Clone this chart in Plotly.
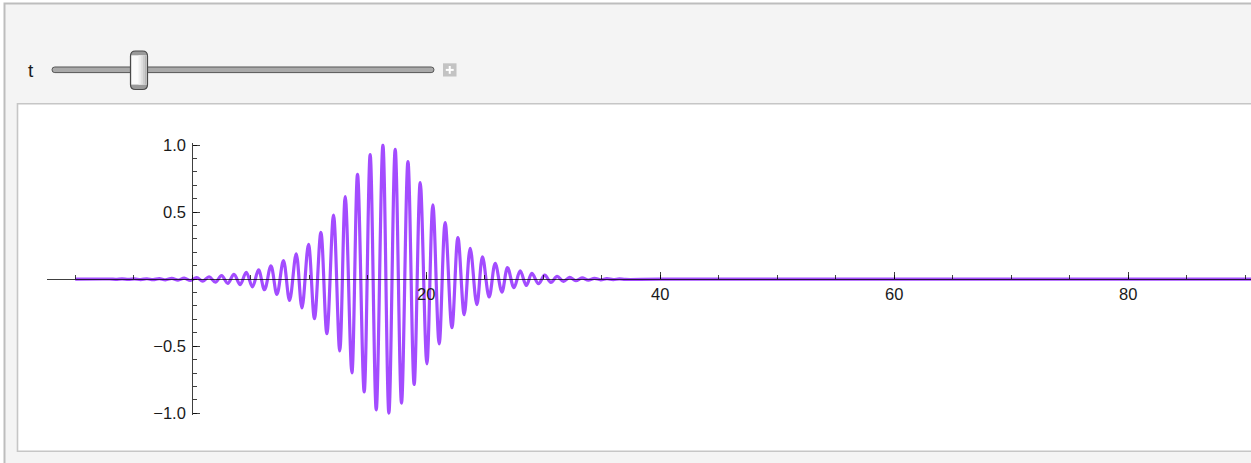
import plotly.graph_objects as go

W, H = 1251, 463

# Turning points of the wave packet (x position, displacement), plus flat ends
x_vals = [-10.0, -7.06, -6.53, -5.99, -5.46, -4.93, -4.40, -3.87, -3.34, -2.81,
          -2.28, -1.74, -1.21, -0.68, -0.15, 0.38, 0.91, 1.44, 1.98, 2.51,
          3.04, 3.57, 4.10, 4.62, 5.15, 5.67, 6.18, 6.73, 7.24, 7.80,
          8.32, 8.89, 9.38, 9.94, 10.45, 11.00, 11.51, 12.08, 12.61, 13.08,
          13.65, 14.13, 14.70, 15.21, 15.73, 16.30, 16.81, 17.35, 17.89, 18.44,
          18.97, 19.49, 20.06, 20.57, 21.11, 21.62, 22.20, 22.71, 23.25, 23.76,
          24.33, 24.81, 25.38, 25.90, 26.47, 26.95, 27.50, 28.03, 28.56, 29.03,
          29.60, 30.13, 30.66, 31.19, 31.73, 32.26, 32.79, 33.32, 33.85, 34.38,
          34.91, 35.44, 35.98, 36.51, 37.04, 40.0, 100.0]
y_vals = [0.0, 0.001, -0.001, 0.002, -0.002, 0.002, -0.003, 0.003, -0.004, 0.004,
          -0.005, 0.006, -0.007, 0.008, -0.010, 0.012, -0.015, 0.018, -0.022, 0.026,
          -0.031, 0.036, -0.041, 0.051, -0.058, 0.069, -0.079, 0.099, -0.114, 0.138,
          -0.159, 0.188, -0.215, 0.259, -0.295, 0.349, -0.407, 0.478, -0.535, 0.616,
          -0.698, 0.782, -0.840, 0.929, -0.974, 0.999, -0.998, 0.968, -0.924, 0.877,
          -0.785, 0.720, -0.631, 0.554, -0.482, 0.422, -0.362, 0.310, -0.265, 0.230,
          -0.190, 0.166, -0.133, 0.118, -0.096, 0.086, -0.064, 0.061, -0.047, 0.043,
          -0.034, 0.030, -0.024, 0.020, -0.016, 0.013, -0.011, 0.009, -0.007, 0.006,
          -0.005, 0.004, -0.003, 0.002, -0.002, 0.0, 0.0]

x_tick_vals = [20, 40, 60, 80]
x_tick_text = ["20", "40", "60", "80"]
y_tick_vals = [-1.0, -0.5, 0.5, 1.0]
y_tick_text = ["\u22121.0", "\u22120.5", "0.5", "1.0"]

slider_label = "t"

FONT = "Liberation Sans, Arial, Helvetica, sans-serif"
AXIS_COLOR = "rgba(0,0,0,0.75)"
TEXT_COLOR = "#1a1a1a"


# pixel -> paper helpers for the control panel decorations
def px(x):
    return x / W


def py(y):
    return 1 - y / H


def rounded_rect(x0, y0, x1, y1, r):
    pts = [
        ("M", (x0 + r, y0)), ("L", (x1 - r, y0)), ("Q", (x1, y0), (x1, y0 + r)),
        ("L", (x1, y1 - r)), ("Q", (x1, y1), (x1 - r, y1)), ("L", (x0 + r, y1)),
        ("Q", (x0, y1), (x0, y1 - r)), ("L", (x0, y0 + r)), ("Q", (x0, y0), (x0 + r, y0)),
    ]
    out = []
    for cmd, *coords in pts:
        out.append(cmd + " " + " ".join(f"{px(a):.6f},{py(b):.6f}" for a, b in coords))
    return " ".join(out) + " Z"


def prect(x0, y0, x1, y1, layer="above", **kw):
    return dict(type="rect", xref="paper", yref="paper", x0=px(x0), x1=px(x1),
                y0=py(y1), y1=py(y0), layer=layer, **kw)


shapes = [
    # outer control frame
    prect(4.5, 3.5, 1270, 480, layer="below",
          fillcolor="#f4f4f4", line=dict(color="#bdbdbd", width=2)),
    # white plot pane
    prect(17.5, 103.8, 1270, 451.2, layer="below",
          fillcolor="#ffffff", line=dict(color="#c6c6c6", width=1.6)),
    # slider track
    dict(type="path", xref="paper", yref="paper", layer="above",
         path=rounded_rect(52, 67, 434, 72.6, 2.8),
         fillcolor="#a9a9a9", line=dict(color="#555555", width=1)),
    # slider thumb
    dict(type="path", xref="paper", yref="paper", layer="above",
         path=rounded_rect(130.5, 51, 147.5, 89.5, 5),
         fillcolor="#9a9a9a", line=dict(color="#4a4a4a", width=1.2)),
    prect(131.3, 55.3, 146.7, 84.6, fillcolor="#fbfbfb", line=dict(width=0)),
    prect(138.5, 55.3, 140.5, 84.6, fillcolor="#efefef", line=dict(width=0)),
    prect(140.5, 55.3, 142.5, 84.6, fillcolor="#e0e0e0", line=dict(width=0)),
    prect(142.5, 55.3, 144.5, 84.6, fillcolor="#cdcdcd", line=dict(width=0)),
    prect(144.5, 55.3, 146.7, 84.6, fillcolor="#b7b7b7", line=dict(width=0)),
    # "+" expander button
    prect(443, 63.3, 456.5, 76.5, fillcolor="#c3c3c3", line=dict(width=0)),
    dict(type="line", xref="paper", yref="paper", layer="above",
         x0=px(445.8), x1=px(453.7), y0=py(69.9), y1=py(69.9),
         line=dict(color="#ffffff", width=2)),
    dict(type="line", xref="paper", yref="paper", layer="above",
         x0=px(449.75), x1=px(449.75), y0=py(66), y1=py(73.8),
         line=dict(color="#ffffff", width=2)),
]

fig = go.Figure()
fig.add_trace(go.Scatter(
    x=x_vals, y=y_vals, mode="lines",
    line=dict(color="#a34cff", width=3.2, shape="spline", smoothing=1.0),
    hoverinfo="skip", showlegend=False,
))

# axis geometry: origin at (192.2, 279.15) px, 11.7 px per x unit, 134.15 px per y unit
x0_px, y0_px, sx, sy = 192.2, 279.15, 11.7, 134.15
x_dom_left = 47.0
y_lim = 1.012
x_range = [(x_dom_left - x0_px) / sx, (W - x0_px) / sx]
y_top_px = y0_px - y_lim * sy
y_bot_px = y0_px + y_lim * sy

tick_font = dict(family=FONT, size=16.5, color=TEXT_COLOR)

fig.update_layout(
    width=W, height=H, autosize=False,
    margin=dict(l=0, r=0, t=0, b=0, pad=0, autoexpand=False),
    paper_bgcolor="#ffffff", plot_bgcolor="rgba(0,0,0,0)",
    font=dict(family=FONT, size=16.5, color=TEXT_COLOR),
    shapes=shapes,
    showlegend=False,
    xaxis=dict(
        domain=[x_dom_left / W, 1.0], range=x_range,
        anchor="free", position=1 - y0_px / H, automargin=False,
        showgrid=False, zeroline=False, showline=True,
        linecolor=AXIS_COLOR, linewidth=1,
        tickmode="array", tickvals=x_tick_vals, ticktext=x_tick_text,
        ticks="inside", ticklen=7, tickwidth=1, tickcolor=AXIS_COLOR,
        minor=dict(dtick=5, tick0=0, ticks="inside", ticklen=4, tickwidth=1,
                   tickcolor=AXIS_COLOR, showgrid=False),
        tickfont=tick_font,
        fixedrange=True,
    ),
    yaxis=dict(
        domain=[1 - y_bot_px / H, 1 - y_top_px / H], range=[-y_lim, y_lim],
        anchor="free", position=x0_px / W, automargin=False,
        showgrid=False, zeroline=False, showline=True,
        linecolor=AXIS_COLOR, linewidth=1,
        tickmode="array", tickvals=y_tick_vals, ticktext=y_tick_text,
        ticks="inside", ticklen=7, tickwidth=1, tickcolor=AXIS_COLOR,
        minor=dict(dtick=0.1, tick0=0, ticks="inside", ticklen=4, tickwidth=1,
                   tickcolor=AXIS_COLOR, showgrid=False),
        tickfont=tick_font, ticklabelstandoff=3,
        fixedrange=True,
    ),
    annotations=[
        dict(text=slider_label, xref="paper", yref="paper", x=px(31), y=py(70),
             xanchor="center", yanchor="middle", showarrow=False,
             font=dict(family=FONT, size=19, color=TEXT_COLOR)),
    ],
)

fig.write_html("out.html", config={"displayModeBar": False})
